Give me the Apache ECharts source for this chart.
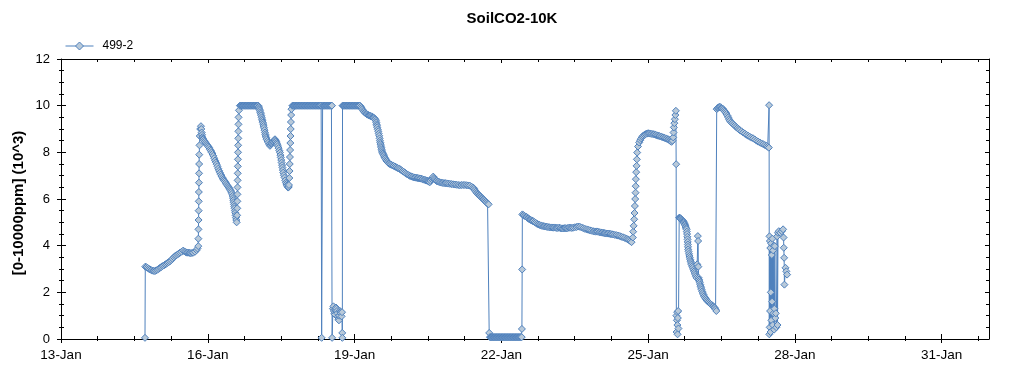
<!DOCTYPE html>
<html><head><meta charset="utf-8">
<script src="https://cdn.jsdelivr.net/npm/echarts@6/dist/echarts.min.js"></script>
<style>html,body{margin:0;padding:0;background:#fff}#c{width:1024px;height:375px}</style>
</head><body><div id="c"></div>
<script>
// ---- DATA (x = days after 13-Jan 00:00, y = CO2 in 10^3 ppm) ----
const chartTitle = 'SoilCO2-10K';
const seriesName = '499-2';
const yAxisName = '[0-10000ppm] (10^3)';
const xTickDays = [0, 3, 6, 9, 12, 15, 18];
const xTickLabels = ['13-Jan', '16-Jan', '19-Jan', '22-Jan', '25-Jan', '28-Jan', '31-Jan'];
const xMinorDays = [0.75,1.5,2.25,3.75,4.5,5.25,6.75,7.5,8.25,9.75,10.5,11.25,12.75,13.5,14.25,15.75,16.5,17.25,18.75];
const yTicks = [0, 2, 4, 6, 8, 10, 12];
const yMinor = [0.5,1,1.5,2.5,3,3.5,4.5,5,5.5,6.5,7,7.5,8.5,9,9.5,10.5,11,11.5];

// 14-Jan start, rise 15/16-Jan, dip 16/17-Jan
const segA = [[1.717,0.05],[1.723,3.10],[1.745,3.08],[1.770,3.05],[1.795,3.01],[1.819,2.98],[1.845,2.95],[1.870,2.93],[1.895,2.92],[1.921,2.91],[1.946,2.94],[1.972,2.97],[1.997,3.01],[2.023,3.05],[2.048,3.08],[2.074,3.12],[2.100,3.15],[2.125,3.19],[2.150,3.22],[2.176,3.26],[2.202,3.29],[2.228,3.33],[2.253,3.38],[2.279,3.44],[2.305,3.50],[2.330,3.55],[2.355,3.58],[2.381,3.62],[2.406,3.66],[2.432,3.70],[2.465,3.74],[2.499,3.79],[2.525,3.75],[2.550,3.72],[2.576,3.70],[2.602,3.70],[2.628,3.69],[2.653,3.68],[2.679,3.69],[2.704,3.70],[2.740,3.74],[2.773,3.81],[2.790,3.88],[2.806,3.98],
[2.808,4.3],[2.810,4.7],[2.812,5.1],[2.814,5.5],[2.816,5.9],[2.818,6.3],[2.820,6.7],[2.822,7.1],[2.824,7.5],[2.826,7.9],[2.831,8.3],[2.836,8.7],[2.846,9.0],[2.861,9.12],
[2.868,9.0],[2.876,8.85],[2.883,8.75],[2.890,8.65],[2.899,8.6],[2.908,8.56],[2.924,8.5],[2.940,8.45],[2.959,8.4],[2.978,8.35],[2.994,8.3],[3.010,8.25],[3.028,8.2],[3.045,8.13],[3.062,8.07],[3.080,8.0],[3.096,7.93],[3.113,7.85],[3.131,7.75],[3.150,7.65],[3.166,7.57],[3.182,7.49],[3.198,7.4],[3.215,7.3],[3.232,7.21],[3.249,7.13],[3.266,7.05],[3.283,6.98],[3.300,6.91],[3.317,6.85],[3.333,6.8],[3.350,6.75],[3.368,6.69],[3.386,6.63],[3.403,6.57],[3.420,6.52],[3.437,6.47],[3.454,6.42],[3.467,6.36],[3.480,6.3],[3.495,6.22],[3.509,6.13],[3.516,6.04],[3.523,5.95],[3.530,5.86],[3.536,5.77],[3.543,5.68],[3.549,5.6],[3.556,5.5],[3.562,5.41],[3.569,5.3],[3.576,5.2],[3.583,5.1],[3.591,5.0]];
// 17-Jan to 18-Jan: saturation at 10 and second dip
const segB = [[3.600,5.3],[3.603,5.6],[3.605,5.9],[3.607,6.2],[3.609,6.5],[3.611,6.8],[3.613,7.1],[3.615,7.4],[3.617,7.7],[3.619,8.0],[3.621,8.3],[3.624,8.6],[3.626,8.9],[3.628,9.2],[3.630,9.5],[3.638,9.8],[3.658,10],
[3.673,10],[3.688,10],[3.703,10],[3.718,10],[3.733,10],[3.748,10],[3.763,10],[3.778,10],[3.793,10],[3.808,10],[3.823,10],[3.838,10],[3.853,10],[3.868,10],[3.883,10],[3.898,10],[3.913,10],[3.928,10],[3.943,10],[3.958,10],[3.973,10],[3.988,10],[4.003,10],[4.018,10],[4.032,10],
[4.041,9.95],[4.050,9.9],[4.058,9.84],[4.067,9.78],[4.076,9.71],[4.085,9.65],[4.093,9.58],[4.102,9.5],[4.110,9.42],[4.118,9.35],[4.126,9.28],[4.134,9.21],[4.142,9.13],[4.150,9.05],[4.160,8.95],[4.169,8.85],[4.177,8.77],[4.185,8.7],[4.195,8.63],[4.204,8.56],[4.221,8.49],[4.238,8.42],[4.255,8.35],[4.271,8.28],[4.286,8.32],[4.300,8.36],[4.313,8.39],[4.326,8.42],[4.338,8.46],[4.350,8.5],[4.362,8.53],[4.374,8.56],[4.386,8.51],[4.398,8.46],[4.409,8.4],[4.420,8.35],[4.434,8.27],[4.448,8.18],[4.462,8.08],[4.476,7.99],[4.485,7.88],[4.493,7.78],[4.502,7.67],[4.510,7.56],[4.519,7.45],[4.527,7.35],[4.535,7.24],[4.543,7.13],[4.556,7.02],[4.570,6.92],[4.584,6.8],[4.598,6.70],[4.609,6.64],[4.620,6.58],[4.632,6.53],[4.645,6.49],[4.653,6.52],[4.660,6.6],
[4.668,6.9],[4.672,7.2],[4.676,7.5],[4.680,7.8],[4.684,8.1],[4.688,8.4],[4.692,8.7],[4.696,9.0],[4.700,9.3],[4.705,9.6],[4.711,9.85],[4.731,10]];
// 18-Jan to 19-Jan: saturated with drop-outs
const segC = [[4.746,10],[4.761,10],[4.776,10],[4.791,10],[4.806,10],[4.821,10],[4.836,10],[4.851,10],[4.866,10],[4.881,10],[4.896,10],[4.911,10],[4.926,10],[4.941,10],[4.956,10],[4.971,10],[4.986,10],[5.001,10],[5.016,10],[5.031,10],[5.046,10],[5.061,10],[5.076,10],[5.091,10],[5.106,10],[5.121,10],[5.136,10],[5.151,10],[5.166,10],[5.181,10],[5.196,10],[5.211,10],[5.226,10],[5.241,10],[5.256,10],[5.271,10],[5.286,10],[5.301,10],[5.318,10],
[5.328,0.05],[5.348,10],[5.363,10],[5.378,10],[5.393,10],[5.408,10],[5.423,10],[5.438,10],[5.453,10],[5.468,10],[5.483,10],[5.498,10],[5.513,10],[5.528,10],[5.538,10],
[5.542,0.05],[5.559,1.3],[5.569,1.4],[5.579,1.2],[5.590,1.1],[5.600,1.05],[5.610,1.25],[5.620,1.35],[5.631,1.3],[5.641,1.2],[5.651,1.1],[5.661,0.95],[5.671,0.85],[5.681,0.8],[5.692,1.0],[5.702,1.2],[5.712,1.15],[5.722,1.1],[5.736,0.97],[5.745,1.15],[5.749,0.26],[5.751,0.05],
[5.755,10],[5.770,10],[5.785,10],[5.800,10],[5.815,10],[5.830,10],[5.845,10],[5.860,10],[5.875,10],[5.890,10],[5.905,10],[5.920,10],[5.935,10],[5.950,10],[5.965,10],[5.980,10],[5.995,10],[6.010,10],[6.025,10],[6.040,10],[6.055,10],[6.070,10],[6.085,10],[6.100,10],[6.111,10]];
// 19-Jan to 21-Jan: slow decline
const segD = [[6.128,9.95],[6.145,9.9],[6.161,9.84],[6.178,9.78],[6.195,9.74],[6.212,9.7],[6.230,9.67],[6.247,9.64],[6.264,9.62],[6.281,9.6],[6.298,9.58],[6.315,9.57],[6.332,9.55],[6.348,9.54],[6.365,9.52],[6.382,9.5],[6.396,9.48],[6.410,9.45],[6.424,9.41],[6.438,9.35],[6.445,9.28],[6.451,9.2],[6.458,9.14],[6.464,9.07],[6.475,8.98],[6.485,8.9],[6.495,8.8],[6.505,8.71],[6.513,8.6],[6.520,8.5],[6.527,8.42],[6.534,8.35],[6.541,8.27],[6.547,8.2],[6.554,8.13],[6.560,8.06],[6.570,8.0],[6.580,7.95],[6.591,7.9],[6.601,7.85],[6.615,7.79],[6.628,7.74],[6.642,7.68],[6.656,7.63],[6.673,7.59],[6.690,7.55],[6.707,7.52],[6.724,7.49],[6.750,7.47],[6.775,7.44],[6.800,7.42],[6.826,7.39],[6.851,7.36],[6.877,7.33],[6.902,7.31],[6.928,7.28],[6.953,7.24],[6.979,7.2],[7.005,7.17],[7.030,7.13],[7.056,7.09],[7.081,7.05],[7.107,7.02],[7.133,6.99],[7.158,6.97],[7.184,6.95],[7.210,6.93],[7.235,6.92],[7.260,6.91],[7.286,6.9],[7.311,6.89],[7.337,6.88],[7.362,6.87],[7.388,6.85],[7.413,6.83],[7.439,6.82],[7.456,6.8],[7.473,6.79],[7.490,6.78],[7.507,6.77],[7.524,6.74],[7.540,6.72],[7.557,6.78],[7.575,6.85],[7.592,6.9],[7.609,6.96],[7.626,6.9],[7.643,6.85],[7.660,6.8],[7.678,6.77],[7.703,6.75],[7.729,6.73],[7.755,6.71],[7.780,6.70],[7.805,6.69],[7.831,6.68],[7.857,6.68],[7.883,6.67],[7.916,6.66],[7.950,6.65],[7.983,6.64],[8.017,6.63],[8.051,6.62],[8.085,6.61],[8.120,6.6],[8.154,6.59],[8.188,6.6],[8.222,6.6],[8.256,6.6],[8.291,6.59],[8.325,6.58],[8.359,6.57],[8.393,6.53],[8.426,6.49],[8.443,6.44],[8.460,6.38],[8.478,6.32],[8.496,6.27],[8.513,6.23],[8.530,6.2],[8.547,6.16],[8.563,6.13],[8.580,6.1],[8.597,6.06],[8.614,6.03],[8.631,5.99],[8.648,5.96],[8.665,5.92],[8.683,5.88],[8.700,5.84],[8.720,5.8],[8.741,5.77]];
// 21-Jan to 22-Jan: zero readings
const segE = [[8.753,0.26],[8.768,0.08],[8.783,0.08],[8.798,0.08],[8.813,0.08],[8.828,0.08],[8.843,0.08],[8.858,0.08],[8.873,0.08],[8.888,0.08],[8.903,0.08],[8.918,0.08],[8.933,0.08],[8.948,0.08],[8.963,0.08],[8.978,0.08],[8.993,0.08],[9.008,0.08],[9.023,0.08],[9.038,0.08],[9.053,0.08],[9.068,0.08],[9.083,0.08],[9.098,0.08],[9.113,0.08],[9.128,0.08],[9.143,0.08],[9.158,0.08],[9.173,0.08],[9.188,0.08],[9.203,0.08],[9.218,0.08],[9.233,0.08],[9.248,0.08],[9.263,0.08],[9.278,0.08],[9.293,0.08],[9.308,0.08],[9.323,0.08],[9.338,0.08],[9.353,0.08],[9.368,0.08],[9.383,0.08],[9.398,0.08],[9.418,0.08]];
// 22-Jan to 25-Jan
const segF = [[9.422,0.43],[9.427,2.98],[9.431,5.34],[9.453,5.31],[9.475,5.28],[9.497,5.25],[9.518,5.23],[9.534,5.2],[9.550,5.17],[9.568,5.14],[9.585,5.12],[9.603,5.1],[9.620,5.08],[9.637,5.06],[9.653,5.05],[9.679,5.01],[9.705,4.98],[9.730,4.94],[9.755,4.91],[9.780,4.89],[9.806,4.87],[9.831,4.85],[9.857,4.84],[9.881,4.83],[9.905,4.82],[9.929,4.81],[9.953,4.8],[9.980,4.79],[10.007,4.78],[10.034,4.78],[10.061,4.77],[10.085,4.78],[10.110,4.77],[10.134,4.76],[10.157,4.76],[10.184,4.77],[10.210,4.75],[10.238,4.74],[10.266,4.74],[10.290,4.75],[10.315,4.75],[10.338,4.74],[10.362,4.76],[10.388,4.77],[10.415,4.77],[10.442,4.76],[10.470,4.77],[10.505,4.79],[10.540,4.8],[10.573,4.82],[10.607,4.81],[10.641,4.78],[10.675,4.75],[10.710,4.72],[10.744,4.70],[10.777,4.68],[10.810,4.66],[10.845,4.64],[10.879,4.62],[10.905,4.61],[10.930,4.6],[10.953,4.61],[10.975,4.6],[11.003,4.58],[11.030,4.57],[11.057,4.56],[11.083,4.55],[11.107,4.54],[11.130,4.53],[11.155,4.52],[11.179,4.52],[11.207,4.51],[11.235,4.5],[11.262,4.49],[11.288,4.48],[11.322,4.46],[11.355,4.45],[11.390,4.43],[11.424,4.41],[11.457,4.38],[11.490,4.36],[11.526,4.33],[11.561,4.30],[11.586,4.27],[11.610,4.24],[11.637,4.2],[11.663,4.15]];
// 25-Jan to 26-Jan
const segG = [[11.690,4.35],[11.696,4.6],[11.706,4.85],[11.717,5.13],[11.724,5.4],[11.731,5.7],[11.738,6.0],[11.745,6.27],[11.748,6.55],[11.751,6.85],[11.758,7.15],[11.766,7.42],[11.772,7.7],[11.778,7.99],[11.795,8.25],[11.819,8.42],[11.840,8.52],[11.860,8.6],[11.880,8.66],[11.900,8.71],[11.925,8.75],[11.950,8.78],[11.976,8.8],[12.002,8.82],[12.026,8.81],[12.050,8.8],[12.078,8.79],[12.105,8.78],[12.130,8.77],[12.155,8.75],[12.181,8.73],[12.207,8.71],[12.232,8.7],[12.258,8.68],[12.283,8.66],[12.309,8.64],[12.335,8.62],[12.360,8.6],[12.385,8.58],[12.411,8.56],[12.430,8.53],[12.450,8.5],[12.466,8.47],[12.481,8.45],[12.500,8.5],[12.514,8.64],[12.521,8.85],[12.528,9.07],[12.538,9.25],[12.549,9.42],[12.559,9.6],[12.569,9.78],
[12.575,7.49],[12.579,1.0],[12.583,0.3],[12.590,0.8],[12.596,1.15],[12.600,0.6],[12.604,0.2],[12.610,0.9],[12.616,1.2],[12.622,0.45],
[12.637,5.2],[12.646,5.19],[12.655,5.18],[12.663,5.17],[12.671,5.15],[12.683,5.12],[12.695,5.1],[12.707,5.08],[12.718,5.05],[12.727,5.02],[12.735,4.98],[12.744,4.94],[12.753,4.9],[12.762,4.85],[12.770,4.8],[12.779,4.75],[12.788,4.70],[12.793,4.6],[12.798,4.5],[12.803,4.38],[12.808,4.27],[12.811,4.16],[12.814,4.05],[12.817,3.95],[12.820,3.84],[12.829,3.75],[12.838,3.65],[12.846,3.56],[12.855,3.48],[12.863,3.4],[12.872,3.33],[12.880,3.26],[12.889,3.19],[12.903,3.12],[12.916,3.05],[12.930,2.97],[12.943,2.90],[12.955,2.83],[12.968,2.76],[12.980,2.69],[12.992,2.62],[13.005,3.2],[13.018,4.41],[13.024,4.2],[13.028,3.1],[13.036,2.62],[13.043,2.55],[13.051,2.48],[13.059,2.41],[13.068,2.33],[13.076,2.26],[13.085,2.19],[13.094,2.12],[13.107,2.04],[13.120,1.97],[13.133,1.9],[13.147,1.83],[13.163,1.77],[13.180,1.72],[13.198,1.67],[13.216,1.62],[13.236,1.58],[13.257,1.54],[13.277,1.5],[13.298,1.47],[13.315,1.43],[13.332,1.4],[13.349,1.36],[13.366,1.33],[13.381,1.27],[13.396,1.2]];
// 26-Jan to 28-Jan
const segH = [[13.404,9.85],[13.420,9.89],[13.436,9.92],[13.452,9.94],[13.468,9.95],[13.484,9.93],[13.500,9.9],[13.518,9.88],[13.535,9.85],[13.552,9.8],[13.570,9.75],[13.588,9.7],[13.605,9.64],[13.623,9.57],[13.640,9.5],[13.656,9.42],[13.672,9.35],[13.698,9.29],[13.723,9.24],[13.749,9.19],[13.774,9.14],[13.800,9.09],[13.826,9.04],[13.852,8.99],[13.877,8.95],[13.911,8.9],[13.945,8.85],[13.980,8.8],[14.014,8.75],[14.048,8.71],[14.081,8.67],[14.115,8.63],[14.149,8.6],[14.183,8.55],[14.217,8.5],[14.252,8.46],[14.286,8.42],[14.320,8.38],[14.354,8.35],[14.388,8.31],[14.422,8.28],[14.446,8.24],[14.469,8.2],
[14.475,10.02],[14.479,0.2],[14.483,4.4],[14.487,0.5],[14.491,4.2],[14.495,1.2],[14.499,3.9],[14.504,0.3],[14.510,2.0],[14.516,4.1],[14.522,0.8],[14.530,3.6],[14.536,1.6],[14.542,4.3],[14.551,0.6],[14.557,3.8],[14.563,1.1],[14.571,4.0],[14.577,0.4],[14.583,1.3],[14.592,3.98],[14.602,0.9],[14.612,1.1],[14.622,0.5],[14.639,4.4],[14.647,0.6],[14.657,4.55],[14.673,4.62],[14.704,4.55],[14.735,4.62],[14.761,4.7],[14.771,4.35],[14.775,3.91],[14.782,3.48],[14.788,2.33],[14.810,3.05],[14.827,2.9],[14.843,2.76]];

const readings = [].concat(segA, segB, segC, segD, segE, segF, segG, segH);

// ---- CHART ----
const FONT = '"Liberation Sans", Arial, sans-serif';
const X_MIN = 0, X_MAX = 18.97, Y_MIN = 0, Y_MAX = 12;
const BLACK = '#000';
const LINE_BLUE = '#4f81bd';
const MARK_FILL = '#b8c9d9';

function xAx(o) {
  return Object.assign({
    type: 'value', gridIndex: 0, min: X_MIN, max: X_MAX, position: 'bottom',
    splitLine: { show: false }, axisLabel: { show: false },
    axisLine: { show: false, onZero: false }, axisTick: { show: false }
  }, o);
}
function yAx(o) {
  return Object.assign({
    type: 'value', gridIndex: 0, min: Y_MIN, max: Y_MAX, position: 'left',
    splitLine: { show: false }, axisLabel: { show: false },
    axisLine: { show: false, onZero: false }, axisTick: { show: false }
  }, o);
}
function tick(vals, inside, len) {
  return { show: true, customValues: vals, inside: inside, length: len, lineStyle: { color: BLACK, width: 1 } };
}
const line = { show: true, onZero: false, lineStyle: { color: BLACK, width: 1 } };

const chart = echarts.init(document.getElementById('c'), null, { renderer: 'canvas' });
chart.setOption({
  animation: false,
  backgroundColor: '#fff',
  title: {
    text: chartTitle, left: 'center', top: 6,
    textStyle: { fontSize: 15, fontWeight: 'bold', color: BLACK, fontFamily: FONT }
  },
  legend: {
    left: 60, top: 35, itemWidth: 28, itemHeight: 10,
    itemStyle: { color: MARK_FILL, borderColor: LINE_BLUE, borderWidth: 1 },
    lineStyle: { color: LINE_BLUE, width: 1 },
    textStyle: { fontSize: 12, color: BLACK, fontFamily: FONT, padding: [0, 0, 0, 4] },
    data: [seriesName]
  },
  grid: { left: 61, right: 35, top: 59, height: 280, containLabel: false },
  xAxis: [
    xAx({ axisLine: line, axisTick: tick(xTickDays, false, 4),
      axisLabel: { show: true, customValues: xTickDays, margin: 9, fontSize: 13.5, color: BLACK, fontFamily: FONT,
        formatter: v => xTickLabels[xTickDays.indexOf(v)] || '' } }),
    xAx({ axisTick: tick(xTickDays, true, 5) }),
    xAx({ axisTick: tick(xMinorDays, true, 3) }),
    xAx({ axisTick: tick(xMinorDays, false, 2) }),
    xAx({ position: 'top', axisLine: line, axisTick: tick(xTickDays, true, 4) }),
    xAx({ position: 'top', axisTick: tick(xMinorDays, true, 3) })
  ],
  yAxis: [
    yAx({ axisLine: line, axisTick: tick(yTicks, false, 4),
      axisLabel: { show: true, customValues: yTicks, margin: 11, fontSize: 13, color: BLACK, fontFamily: FONT } }),
    yAx({ axisTick: tick(yTicks, true, 5) }),
    yAx({ axisTick: tick(yMinor, true, 3) }),
    yAx({ axisTick: tick(yMinor, false, 2) }),
    yAx({ position: 'right', axisLine: line, axisTick: tick(yTicks, true, 4) }),
    yAx({ position: 'right', axisTick: tick(yMinor, true, 3) })
  ],
  graphic: [{
    type: 'text', x: 18.5, y: 203, rotation: Math.PI / 2,
    style: { text: yAxisName, fontSize: 15, fontWeight: 'bold', fontFamily: FONT, fill: BLACK, align: 'center', verticalAlign: 'middle' }
  }],
  series: [{
    type: 'line', name: seriesName, data: readings,
    xAxisIndex: 0, yAxisIndex: 0,
    symbol: 'diamond', symbolSize: 7, showAllSymbol: true, sampling: null,
    lineStyle: { color: LINE_BLUE, width: 1 },
    itemStyle: { color: MARK_FILL, borderColor: LINE_BLUE, borderWidth: 1 },
    emphasis: { disabled: true }
  }]
});
</script>
</body></html>
